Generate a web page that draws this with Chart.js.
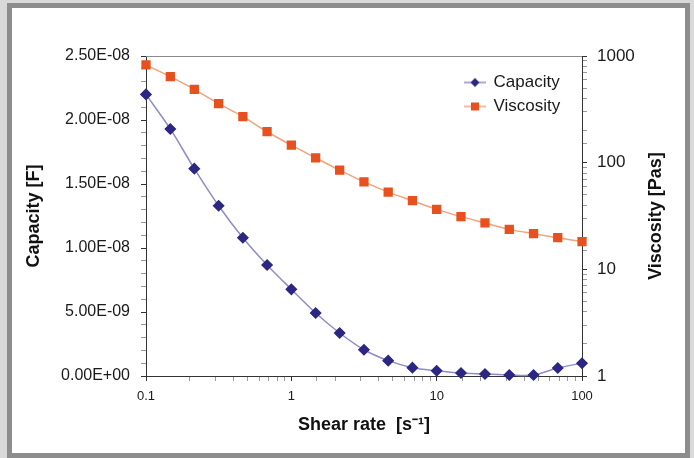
<!DOCTYPE html>
<html>
<head>
<meta charset="utf-8">
<script src="https://cdn.jsdelivr.net/npm/chart.js@4.4.1/dist/chart.umd.min.js"></script>
<style>
  html, body { margin: 0; padding: 0; width: 694px; height: 458px; overflow: hidden; background: #d9d9d9; }
  #moldura { position: absolute; left: 7px; top: 3px; width: 683px; height: 455px; box-sizing: border-box; border: 5px solid #8d8d8d; background: #ffffff; }
  #grafico { position: absolute; left: 0; top: 0; }
</style>
</head>
<body>
<div id="moldura"></div>
<canvas id="grafico" width="694" height="458"></canvas>
<script>
// Dados
var taxaCisalhamento = [0.1, 0.147, 0.215, 0.316, 0.464, 0.681, 1, 1.47, 2.15, 3.16, 4.64, 6.81, 10, 14.7, 21.5, 31.6, 46.4, 68.1, 100];
var capacidade = [2.20e-8, 1.93e-8, 1.62e-8, 1.33e-8, 1.08e-8, 8.67e-9, 6.77e-9, 4.92e-9, 3.36e-9, 2.05e-9, 1.2e-9, 6.5e-10, 4.1e-10, 2.3e-10, 1.6e-10, 8e-11, 8e-11, 6.3e-10, 1.0e-9];
var viscosidade = [824, 640, 487, 357, 270, 195, 146, 111, 85, 66, 53, 44, 36.5, 31.2, 27.2, 23.7, 21.6, 19.8, 18.2];

// Rótulos dos eixos
var rotulosX = ["0.1", "1", "10", "100"];
var rotulosCapacidade = ["0.00E+00", "5.00E-09", "1.00E-08", "1.50E-08", "2.00E-08", "2.50E-08"];
var rotulosViscosidade = ["1", "10", "100", "1000"];

var corLinhaCap = "#8f8cc6";
var corPontoCap = "#2b2782";
var corLinhaVisc = "#f2a37c";
var corPontoVisc = "#e8501f";
var fonte = "'Liberation Sans', Arial, sans-serif";

// Junta x e y em pontos
function pontos(valores) {
  return taxaCisalhamento.map(function (x, i) {
    return { x: x, y: valores[i] };
  });
}

// Retorna o índice da década (ou -1 se não for potência de 10)
function indiceDecada(valor, base) {
  var e = Math.log10(valor / base);
  var r = Math.round(e);
  return Math.abs(e - r) < 1e-6 ? r : -1;
}

// Marcador da legenda: linha com o ponto no meio
function criarMarcador(corLinha, corPonto, forma) {
  var c = document.createElement("canvas");
  c.width = 22;
  c.height = 12;
  var g = c.getContext("2d");
  g.strokeStyle = corLinha;
  g.lineWidth = 1.5;
  g.beginPath();
  g.moveTo(0, 6);
  g.lineTo(22, 6);
  g.stroke();
  g.fillStyle = corPonto;
  if (forma === "losango") {
    g.beginPath();
    g.moveTo(11, 1.5);
    g.lineTo(15.5, 6);
    g.lineTo(11, 10.5);
    g.lineTo(6.5, 6);
    g.closePath();
    g.fill();
  } else {
    g.fillRect(7, 2, 8, 8);
  }
  return c;
}
var marcadores = [
  criarMarcador(corLinhaCap, corPontoCap, "losango"),
  criarMarcador(corLinhaVisc, corPontoVisc, "quadrado"),
];

// Cor das marcas menores
function corMarca(ctx) {
  return ctx.tick && ctx.tick.label === "" ? "#9a9a9a" : "#333333";
}

// Move a legenda para o canto superior direito da área do gráfico
var posicionarLegenda = {
  id: "posicionarLegenda",
  afterLayout: function (chart) {
    var lg = chart.legend;
    var area = chart.chartArea;
    var w = lg.width;
    var h = lg.height;
    lg.left = area.right - 124;
    lg.right = lg.left + w;
    lg.top = area.top + 11;
    lg.bottom = lg.top + h;
  },
};

// Linha de cima da moldura e título do eixo da direita (lido de baixo para cima)
var extras = {
  id: "extras",
  afterDraw: function (chart) {
    var ctx = chart.ctx;
    var area = chart.chartArea;
    ctx.save();
    ctx.strokeStyle = "#8a8a8a";
    ctx.lineWidth = 1;
    ctx.beginPath();
    ctx.moveTo(area.left, area.top + 0.5);
    ctx.lineTo(area.right, area.top + 0.5);
    ctx.stroke();

    var escala = chart.scales.y1;
    ctx.translate(escala.right - 38, (area.top + area.bottom) / 2);
    ctx.rotate(-Math.PI / 2);
    ctx.font = "bold 18px " + fonte;
    ctx.fillStyle = "#111111";
    ctx.textAlign = "center";
    ctx.textBaseline = "middle";
    ctx.fillText("Viscosity [Pas]", 0, 0);
    ctx.restore();
  },
};

var ctx = document.getElementById("grafico").getContext("2d");
var grafico = new Chart(ctx, {
  type: "line",
  data: {
    datasets: [
      {
        label: "Capacity",
        data: pontos(capacidade),
        yAxisID: "y",
        borderColor: corLinhaCap,
        borderWidth: 1.5,
        backgroundColor: corPontoCap,
        pointBackgroundColor: corPontoCap,
        pointBorderColor: corPontoCap,
        pointStyle: "rectRot",
        pointRadius: 5,
        tension: 0.3,
        clip: false,
      },
      {
        label: "Viscosity",
        data: pontos(viscosidade),
        yAxisID: "y1",
        borderColor: corLinhaVisc,
        borderWidth: 1.5,
        backgroundColor: corPontoVisc,
        pointBackgroundColor: corPontoVisc,
        pointBorderColor: corPontoVisc,
        pointStyle: "rect",
        pointRadius: 5.5,
        tension: 0.3,
        clip: false,
      },
    ],
  },
  options: {
    responsive: false,
    animation: false,
    layout: { padding: { top: 56, left: 0, right: 0, bottom: 0 } },
    plugins: {
      tooltip: { enabled: false },
      legend: {
        position: "chartArea",
        align: "start",
        labels: {
          usePointStyle: true,
          pointStyleWidth: 20,
          boxHeight: 12,
          padding: 7,
          color: "#1a1a1a",
          font: { family: fonte, size: 17 },
          generateLabels: function (chart) {
            var itens = Chart.defaults.plugins.legend.labels.generateLabels(chart);
            itens.forEach(function (item, i) {
              item.pointStyle = marcadores[i];
            });
            return itens;
          },
        },
      },
    },
    scales: {
      x: {
        type: "logarithmic",
        min: 0.1,
        max: 100,
        afterFit: function (escala) { escala.height = 82; },
        border: { display: true, color: "#333333" },
        grid: { display: true, drawOnChartArea: false, drawTicks: true, tickLength: 5, tickColor: corMarca },
        ticks: {
          autoSkip: false,
          maxRotation: 0,
          padding: 8,
          color: "#1a1a1a",
          font: { family: fonte, size: 13 },
          callback: function (valor) {
            var i = indiceDecada(valor, 0.1);
            return i >= 0 && i < rotulosX.length ? rotulosX[i] : "";
          },
        },
        title: {
          display: true,
          text: "Shear rate  [s\u207B\u00B9]",
          color: "#111111",
          font: { family: fonte, size: 18, weight: "bold" },
          padding: { top: 0, bottom: 22 },
        },
      },
      y: {
        type: "linear",
        position: "left",
        min: 0,
        max: 2.5e-8,
        afterFit: function (escala) { escala.width = 146; },
        border: { display: true, color: "#333333" },
        grid: { display: true, drawOnChartArea: false, drawTicks: true, tickLength: 5, tickColor: corMarca },
        ticks: {
          stepSize: 1e-9,
          autoSkip: false,
          padding: 11,
          color: "#1a1a1a",
          font: { family: fonte, size: 16 },
          callback: function (valor) {
            var k = valor / 5e-9;
            var r = Math.round(k);
            return Math.abs(k - r) < 1e-6 && rotulosCapacidade[r] ? rotulosCapacidade[r] : "";
          },
        },
        title: {
          display: true,
          text: "Capacity [F]",
          color: "#111111",
          font: { family: fonte, size: 18, weight: "bold" },
          padding: { top: 23, bottom: 0 },
        },
      },
      y1: {
        type: "logarithmic",
        position: "right",
        min: 1,
        max: 1000,
        afterFit: function (escala) { escala.width = 112; },
        border: { display: true, color: "#333333" },
        grid: { display: true, drawOnChartArea: false, drawTicks: true, tickLength: 5, tickColor: corMarca },
        ticks: {
          autoSkip: false,
          padding: 10,
          color: "#1a1a1a",
          font: { family: fonte, size: 17 },
          callback: function (valor) {
            var i = indiceDecada(valor, 1);
            return i >= 0 && i < rotulosViscosidade.length ? rotulosViscosidade[i] : "";
          },
        },
      },
    },
  },
  plugins: [posicionarLegenda, extras],
});
</script>
</body>
</html>
